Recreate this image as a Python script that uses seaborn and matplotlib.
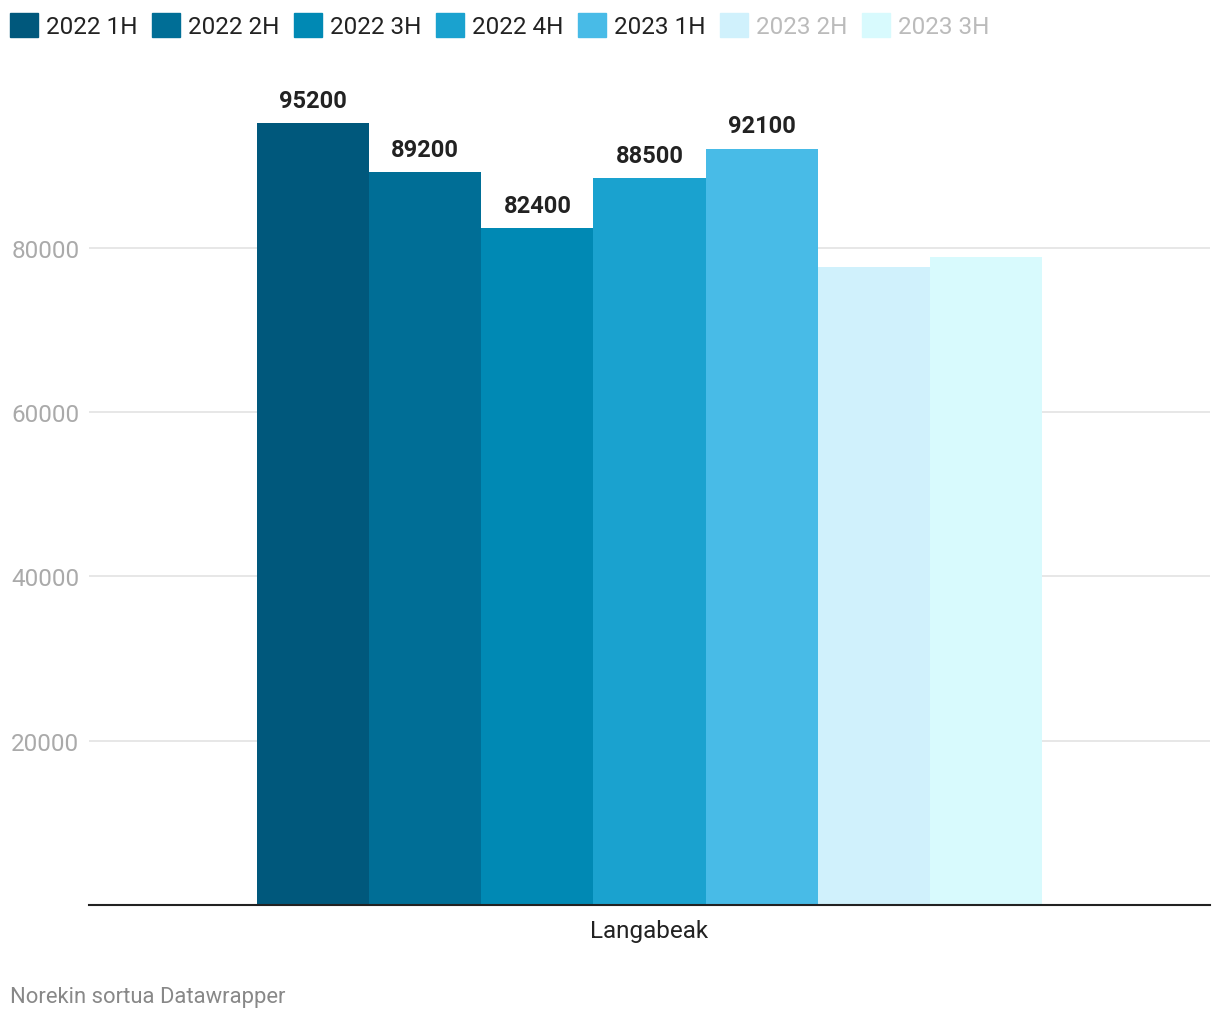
import pandas as pd
import matplotlib.pyplot as plt
import seaborn as sns

# data
category = ['Langabeak']
periods = ['2022 1H', '2022 2H', '2022 3H', '2022 4H', '2023 1H', '2023 2H', '2023 3H']
values = [95200, 89200, 82400, 88500, 92100, 77700, 78900]
labelled = [True, True, True, True, True, False, False]
colors = ['#00587c', '#006e96', '#0089b4', '#1aa2cf', '#48bbe7', '#d0f1fc', '#d8fafd']

df = pd.DataFrame({'cat': category * len(periods), 'period': periods, 'value': values})

sns.set_style('white')
plt.rcParams['font.family'] = ['Roboto', 'DejaVu Sans']

fig = plt.figure(figsize=(12.2, 10.2), dpi=100)
ax = fig.add_axes([89 / 1220, 1 - 906 / 1020, 1121 / 1220, 846 / 1020])

sns.barplot(data=df, x='cat', y='value', hue='period', hue_order=periods,
            palette=colors, width=0.7, saturation=1, linewidth=0,
            ax=ax, legend=False)

ax.set_ylim(0, 103000)
ax.set_yticks([20000, 40000, 60000, 80000])
ax.yaxis.grid(True, color='#e3e3e3', linewidth=1.2)
ax.set_axisbelow(True)
for s in ['top', 'right', 'left']:
    ax.spines[s].set_visible(False)
ax.spines['bottom'].set_color('#222222')
ax.spines['bottom'].set_linewidth(1.5)
ax.tick_params(axis='y', length=0, labelsize=17.5, labelcolor='#aaaaaa', pad=7)
ax.tick_params(axis='x', length=0, labelsize=17.5, labelcolor='#222222', pad=10)
ax.set_xlabel('')
ax.set_ylabel('')

# value labels on the bars
for container, show in zip(ax.containers, labelled):
    if show:
        ax.bar_label(container, fmt='%d', padding=8, fontsize=17,
                     fontweight='bold', color='#222222')

# legend at the top
handles = [plt.Rectangle((0, 0), 1, 1, color=c) for c in colors]
leg = fig.legend(handles, periods, loc='upper left',
                 bbox_to_anchor=(10 / 1220, 1 - 14 / 1020),
                 ncol=7, frameon=False, fontsize=17.5, handlelength=1.15,
                 handleheight=1.15, handletextpad=0.33, columnspacing=0.6,
                 borderpad=0, borderaxespad=0)
for txt, show in zip(leg.get_texts(), labelled):
    txt.set_color('#222222' if show else '#bbbbbb')

fig.text(10 / 1220, 1 - 998 / 1020, 'Norekin sortua Datawrapper', fontsize=15.8,
         color='#888888', va='center', ha='left')

fig.savefig('out.png', dpi=100)
